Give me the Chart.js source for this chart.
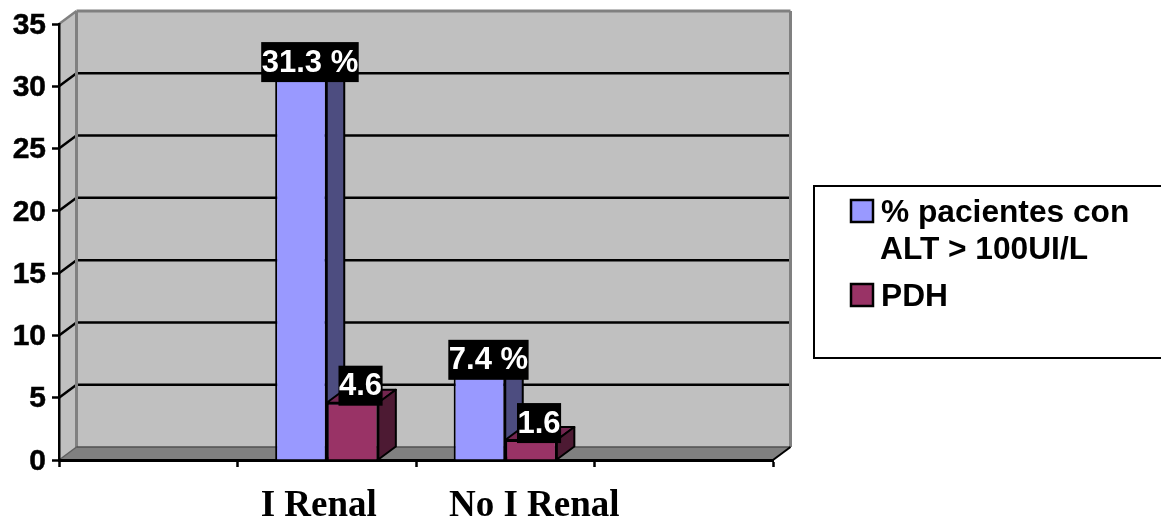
<!DOCTYPE html>
<html>
<head>
<meta charset="utf-8">
<title>ALT</title>
<script src="https://cdn.jsdelivr.net/npm/chart.js@4"></script>
<style>
body{margin:0;background:#fff;}
canvas{display:block;}
</style>
</head>
<body>
<canvas id="chart" width="1161" height="517"></canvas>
<script>
// data
const categories = ["", "I Renal", "No I Renal", ""];
const altValues = [null, 31.3, 7.4, null];
const pdhValues = [null, 4.6, 1.6, null];
const altLabels = ["", "31.3 %", "7.4 %", ""];
const pdhLabels = ["", "4.6", "1.6", ""];
const seriesNames = [["% pacientes con", "ALT > 100UI/L"], ["PDH"]];

const SANS = '"Liberation Sans", Arial, sans-serif';
const SERIF = '"Liberation Serif", "Times New Roman", serif';
const DX = 17.5, DY = 13;   // depth of the fake 3d box

const faces = [
    {side:"#4D4D80", top:"#7373BF", lift:8, nudge:9, text:altLabels, values:altValues},
    {side:"#4D1A33", top:"#732650", lift:17, nudge:8, text:pdhLabels, values:pdhValues}
];

function poly(ctx, pts, fill, stroke, w){
    ctx.beginPath();
    pts.forEach((p,i)=> i ? ctx.lineTo(p[0],p[1]) : ctx.moveTo(p[0],p[1]));
    ctx.closePath();
    if(fill){ ctx.fillStyle = fill; ctx.fill(); }
    if(stroke){ ctx.strokeStyle = stroke; ctx.lineWidth = w; ctx.stroke(); }
}

function line(ctx, x1, y1, x2, y2, color, w){
    ctx.beginPath();
    ctx.moveTo(x1,y1);
    ctx.lineTo(x2,y2);
    ctx.strokeStyle = color;
    ctx.lineWidth = w;
    ctx.stroke();
}

const box3d = {
    id:"box3d",

    // the axes have no per-label offset, so shift the labels here
    afterLayout(chart){
        const shift = {"I Renal":-8, "No I Renal":29};
        chart.scales.x.getLabelItems().forEach(item=>{
            if(shift[item.label]) item.options.translation[0] += shift[item.label];
        });
        chart.scales.y.getLabelItems().forEach(item=>{
            item.options.translation[1] += 1.5;
        });
    },

    beforeDraw(chart){
        const {ctx, chartArea:a, scales:{y}} = chart;
        ctx.save();
        poly(ctx, [[a.left+DX,a.top-DY],[a.right+DX,a.top-DY],[a.right+DX,a.bottom-DY],[a.left+DX,a.bottom-DY]], "#C0C0C0");
        poly(ctx, [[a.left,a.top],[a.left+DX,a.top-DY],[a.left+DX,a.bottom-DY],[a.left,a.bottom]], "#C0C0C0");
        poly(ctx, [[a.left,a.bottom],[a.left+DX,a.bottom-DY],[a.right+DX,a.bottom-DY],[a.right,a.bottom]], "#808080");

        y.ticks.forEach(t=>{
            const py = y.getPixelForValue(t.value);
            if(t.value > 0 && t.value < y.max){
                line(ctx, a.left, py, a.left+DX, py-DY, "#000", 2.5);
                line(ctx, a.left+DX, py-DY, a.right+DX, py-DY, "#000", 2.5);
            }
        });

        // wall edges
        line(ctx, a.left, a.top, a.left+DX, a.top-DY, "#808080", 2.5);
        line(ctx, a.left+DX, a.top-DY, a.right+DX, a.top-DY, "#808080", 3);
        line(ctx, a.left+DX, a.top-DY, a.left+DX, a.bottom-DY, "#808080", 3);
        line(ctx, a.right+DX, a.top-DY, a.right+DX, a.bottom-DY, "#808080", 3);
        line(ctx, a.left, a.bottom, a.left+DX, a.bottom-DY, "#606060", 1.5);
        line(ctx, a.left+DX, a.bottom-DY, a.right+DX, a.bottom-DY, "#505050", 1.5);
        line(ctx, a.right, a.bottom, a.right+DX, a.bottom-DY, "#000", 2);
        ctx.restore();
    },

    beforeDatasetsDraw(chart){
        const ctx = chart.ctx;
        ctx.save();
        ctx.lineJoin = "round";
        faces.forEach((f,d)=>{
            chart.getDatasetMeta(d).data.forEach((bar,i)=>{
                if(f.values[i] === null) return;
                const l = bar.x-bar.width/2, r = bar.x+bar.width/2;
                poly(ctx, [[l,bar.y],[l+DX,bar.y-DY],[r+DX,bar.y-DY],[r,bar.y]], f.top, "#000", 2);
                poly(ctx, [[r,bar.y],[r+DX,bar.y-DY],[r+DX,bar.base-DY],[r,bar.base]], f.side, "#000", 2);
            });
        });
        ctx.restore();
    },

    afterDatasetsDraw(chart){
        const ctx = chart.ctx;
        ctx.save();
        ctx.font = "bold 31px " + SANS;
        ctx.textAlign = "center";
        ctx.textBaseline = "middle";
        faces.forEach((f,d)=>{
            chart.getDatasetMeta(d).data.forEach((bar,i)=>{
                if(!f.text[i]) return;
                const cx = bar.x+f.nudge, cy = bar.y-f.lift;
                const w = ctx.measureText(f.text[i]).width+1;
                ctx.fillStyle = "#000";
                ctx.fillRect(cx-w/2, cy-20, w, 40);
                ctx.fillStyle = "#fff";
                ctx.fillText(f.text[i], cx, cy+1);
            });
        });
        ctx.restore();
    },

    afterDraw(chart){
        const ctx = chart.ctx;
        ctx.save();
        // legend box runs off the right side like the original
        ctx.strokeStyle = "#000";
        ctx.lineWidth = 2;
        ctx.strokeRect(814, 186, 360, 172);

        ctx.font = "bold 31.7px " + SANS;
        ctx.textAlign = "left";
        ctx.textBaseline = "alphabetic";
        let base = 222;
        seriesNames.forEach((lines,d)=>{
            ctx.fillStyle = chart.data.datasets[d].backgroundColor;
            ctx.fillRect(851, base-22, 22, 22);
            ctx.lineWidth = 2.5;
            ctx.strokeRect(851, base-22, 22, 22);
            ctx.fillStyle = "#000";
            lines.forEach((txt,k)=>{
                ctx.fillText(txt, k ? 880 : 881, base+k*37);
            });
            base += lines.length*37+10;
        });
        ctx.restore();
    }
};

new Chart(document.getElementById("chart"), {
    type:"bar",
    plugins:[box3d],
    data:{
        labels:categories,
        datasets:[
            {label:seriesNames[0].join(" "), data:altValues, backgroundColor:"#9999FF", borderColor:"#000", borderWidth:2},
            {label:seriesNames[1][0], data:pdhValues, backgroundColor:"#993366", borderColor:"#000", borderWidth:2}
        ]
    },
    options:{
        responsive:false,
        animation:false,
        layout:{padding:{top:24, right:388, left:0, bottom:0}},
        datasets:{bar:{barPercentage:1, categoryPercentage:0.578}},
        plugins:{legend:{display:false}, tooltip:{enabled:false}},
        scales:{
            x:{
                afterFit(s){ s.height = 57; },
                grid:{drawOnChartArea:false, drawTicks:true, tickLength:7, tickColor:"#000", tickWidth:2.5, offset:true},
                border:{color:"#000", width:3},
                ticks:{
                    color:"#000", padding:17, maxRotation:0, autoSkip:false,
                    font:{family:SERIF, size:37, weight:"bold"}
                }
            },
            y:{
                min:0, max:35,
                afterFit(s){ s.width = 59; },
                grid:{drawOnChartArea:false, drawTicks:true, tickLength:7, tickColor:"#000", tickWidth:2.5},
                border:{color:"#000", width:2.5},
                ticks:{
                    stepSize:5, color:"#000", padding:6,
                    textStrokeColor:"#000", textStrokeWidth:0.5,
                    font:{family:SANS, size:30, weight:"bold"}
                }
            }
        }
    }
});
</script>
</body>
</html>
